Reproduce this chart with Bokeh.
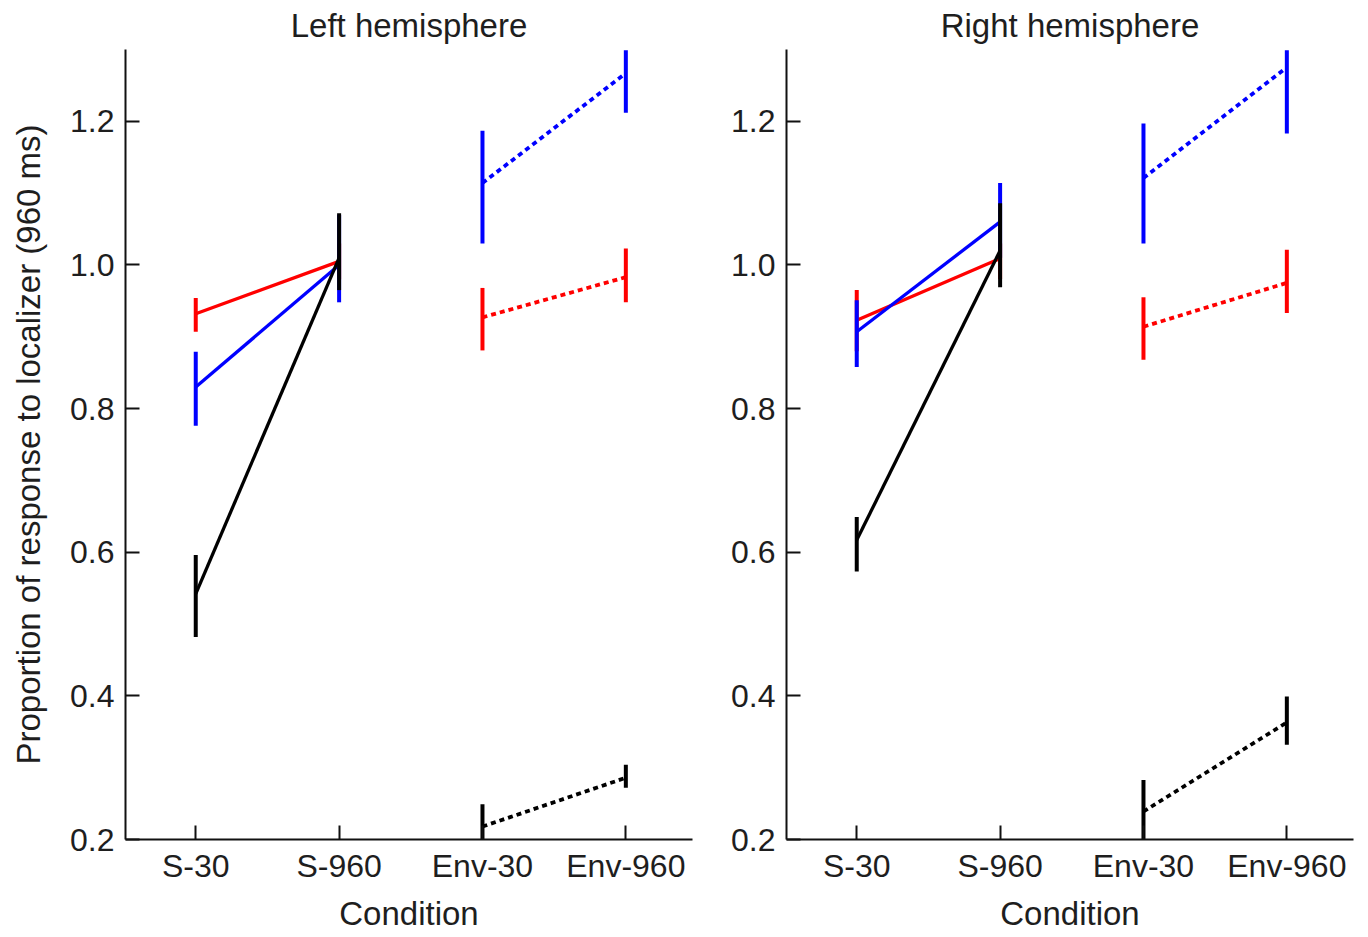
from bokeh.plotting import figure
from bokeh.layouts import row
from bokeh.models import Range1d, FixedTicker, PrintfTickFormatter, Title
from bokeh.embed import file_html
from bokeh.resources import INLINE

conditions = ["S-30", "S-960", "Env-30", "Env-960"]
y_ticks = [0.2, 0.4, 0.6, 0.8, 1.0, 1.2]

# Left hemisphere
red_mean_L = [0.932, 1.005, 0.927, 0.983]
red_lo_L = [0.907, 0.980, 0.881, 0.948]
red_hi_L = [0.954, 1.030, 0.968, 1.023]
blue_mean_L = [0.830, 1.000, 1.114, 1.267]
blue_lo_L = [0.776, 0.948, 1.030, 1.212]
blue_hi_L = [0.879, 1.070, 1.187, 1.299]
black_mean_L = [0.542, 1.010, 0.218, 0.286]
black_lo_L = [0.482, 0.965, 0.185, 0.272]
black_hi_L = [0.596, 1.072, 0.249, 0.304]

# Right hemisphere
red_mean_R = [0.923, 1.009, 0.914, 0.975]
red_lo_R = [0.880, 0.980, 0.868, 0.933]
red_hi_R = [0.965, 1.030, 0.955, 1.021]
blue_mean_R = [0.907, 1.060, 1.121, 1.275]
blue_lo_R = [0.858, 1.010, 1.030, 1.183]
blue_hi_R = [0.951, 1.114, 1.197, 1.299]
black_mean_R = [0.617, 1.020, 0.239, 0.363]
black_lo_R = [0.573, 0.969, 0.185, 0.332]
black_hi_R = [0.649, 1.086, 0.283, 0.399]

FONT = "Liberation Sans"
TXT = "#1e1e1e"


def panel(title, series, width, bl, br, ylabel=None):
    p = figure(width=width, height=935, output_backend="svg", toolbar_location=None,
               x_range=Range1d(-0.49, 3.465), y_range=Range1d(0.2, 1.3),
               min_border_left=bl, min_border_right=br, min_border_top=47,
               min_border_bottom=96)
    p.title = Title(text=title, align="center", text_font=FONT, text_font_size="33px",
                    text_font_style="normal", text_color=TXT, standoff=10,
                    vertical_align="middle")
    p.outline_line_color = None
    p.grid.visible = False
    p.background_fill_color = "white"
    p.border_fill_color = "white"
    xs = list(range(len(conditions)))
    for color, mean, lo, hi in series:
        p.line(xs[:2], mean[:2], line_color=color, line_width=3.3)
        p.line(xs[2:], mean[2:], line_color=color, line_width=3.8, line_dash="5 4")
        p.segment(x0=xs, y0=lo, x1=xs, y1=hi, line_color=color, line_width=4)
    # axes
    p.xaxis.ticker = FixedTicker(ticks=xs)
    p.xaxis.major_label_overrides = {i: c for i, c in enumerate(conditions)}
    p.xaxis.axis_label = "Condition"
    p.yaxis.ticker = FixedTicker(ticks=y_ticks)
    p.yaxis.formatter = PrintfTickFormatter(format="%.1f")
    if ylabel:
        p.yaxis.axis_label = ylabel
        p.yaxis.axis_label_text_font_size = "33px"
        p.yaxis.axis_label_standoff = 20
    for ax in (p.xaxis[0], p.yaxis[0]):
        ax.axis_line_width = 2
        ax.axis_line_color = "#111111"
        ax.major_tick_line_width = 2
        ax.major_tick_line_color = "#111111"
        ax.major_tick_in = 14
        ax.major_tick_out = 0
        ax.minor_tick_line_color = None
        ax.major_label_text_font = FONT
        ax.major_label_text_font_size = "32px"
        ax.major_label_text_color = TXT
        ax.axis_label_text_font = FONT
        ax.axis_label_text_font_style = "normal"
        ax.axis_label_text_color = TXT
    p.xaxis.axis_label_text_font_size = "33px"
    p.xaxis.major_label_standoff = 8
    p.xaxis.axis_label_standoff = 8
    p.yaxis.major_label_standoff = 11
    return p


left = panel("Left hemisphere",
             [("#ff0000", red_mean_L, red_lo_L, red_hi_L),
              ("#0000ff", blue_mean_L, blue_lo_L, blue_hi_L),
              ("#000000", black_mean_L, black_lo_L, black_hi_L)],
             700, 125, 8, ylabel="Proportion of response to localizer (960 ms)")
right = panel("Right hemisphere",
              [("#ff0000", red_mean_R, red_lo_R, red_hi_R),
               ("#0000ff", blue_mean_R, blue_lo_R, blue_hi_R),
               ("#000000", black_mean_R, black_lo_R, black_hi_R)],
              660, 86, 7)

layout = row(left, right)
open("out.html", "w").write(file_html(layout, INLINE))
